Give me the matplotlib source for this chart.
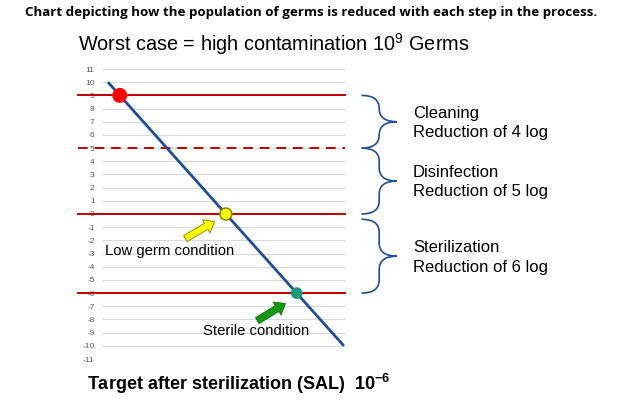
import matplotlib
matplotlib.use("Agg")
import matplotlib.pyplot as plt
from matplotlib.path import Path
from matplotlib.patches import PathPatch, FancyArrowPatch

plt.rcParams['font.family'] = ['Liberation Sans', 'DejaVu Sans']
plt.rcParams['mathtext.fontset'] = 'custom'
plt.rcParams['mathtext.rm'] = 'Liberation Sans'
plt.rcParams['mathtext.bf'] = 'Liberation Sans:bold'
plt.rcParams['axes.unicode_minus'] = False

# data: log10 of germ count along the process
steps = [0, 20]
log_germs = [10, -10]
y_ticks = list(range(-11, 12))

# stage boundaries (log level) and their line style
levels = [9, 5, 0, -6]
level_styles = ['-', '--', '-', '-']

# marked points on the reduction line
point_levels = [9, 0, -6]
point_colors = ['#ff0000', '#ffff00', '#159a7a']
point_edges = ['#ff0000', '#7f7f00', '#159a7a']
point_sizes = [95, 75, 55]

# process stages: (top level, bottom level, label)
stages = [(9, 5, 'Cleaning\nReduction of 4 log'),
          (5, 0, 'Disinfection\nReduction of 5 log'),
          (-0.4, -6, 'Sterilization\nReduction of 6 log')]

fig = plt.figure(figsize=(6.17, 4.01), dpi=100)
ax = fig.add_axes([103/617, 1 - 359/401, (345 - 103)/617, (359 - 69)/401])
ax.set_xlim(-0.42, 20.1)
ax.set_ylim(-11, 11)
for s in ax.spines.values():
    s.set_visible(False)
ax.set_xticks([])
ax.set_yticks(y_ticks)
ax.tick_params(axis='y', length=0, pad=6, labelsize=6, labelcolor='#595959')
ax.yaxis.grid(True, color='#d9d9d9', lw=0.8)
ax.set_axisbelow(True)

# stage boundary lines, drawn through the tick labels
for lv, ls in zip(levels, level_styles):
    ax.plot([-2.5, 20.1], [lv, lv], color='#c00000', lw=1.4, ls=ls,
            dashes=(5, 3.5) if ls == '--' else (None, None), clip_on=False, zorder=2)

# reduction line
ax.plot(steps, log_germs, color='#1f4e96', lw=2, zorder=3, solid_capstyle='butt')

slope = (log_germs[1] - log_germs[0]) / (steps[1] - steps[0])
px = [steps[0] + (lv - log_germs[0]) / slope for lv in point_levels]
ax.scatter(px, point_levels, s=point_sizes, c=point_colors, edgecolors=point_edges,
           linewidths=1, zorder=4)

# arrows pointing at the conditions
arrows = [((6.36, -1.97), (9.24, -0.46), '#ffff00', '#7f7f00'),
          ((12.46, -8.2), (15.25, -6.68), '#119911', '#0b6b0b')]
for tail, head, fc, ec in arrows:
    ax.add_patch(FancyArrowPatch(tail, head, arrowstyle='simple,head_length=7,head_width=11,tail_width=5',
                                 fc=fc, ec=ec, lw=0.6, zorder=5, clip_on=False))

ax.text(-0.25, -2.8, 'Low germ condition', fontsize=10.7, va='center', ha='left')
ax.text(8.05, -8.9, 'Sterile condition', fontsize=10.7, va='center', ha='left')

# braces and stage labels
x0, x1, x2 = 21.5, 23.0, 24.5
r = 1.0
for top, bot, label in stages:
    mid = (top + bot) / 2
    verts = [(x0, top), (x1, top), (x1, top - r),
             (x1, mid + r), (x1, mid), (x2, mid),
             (x1, mid), (x1, mid - r),
             (x1, bot + r), (x1, bot), (x0, bot)]
    codes = [Path.MOVETO, Path.CURVE3, Path.CURVE3,
             Path.LINETO, Path.CURVE3, Path.CURVE3,
             Path.CURVE3, Path.CURVE3,
             Path.LINETO, Path.CURVE3, Path.CURVE3]
    ax.add_patch(PathPatch(Path(verts, codes), fc='none', ec='#1f4e96', lw=1.2, clip_on=False))
    ax.text(25.85, mid - 0.1, label, fontsize=12, va='center', ha='left', linespacing=1.35)

fig.text(0.504, 0.968, 'Chart depicting how the population of germs is reduced with each step in the process.',
         fontsize=9.6, fontweight='bold', ha='center', va='center', family=['Open Sans', 'DejaVu Sans'])
fig.text(78/617, 1 - 44/401, r'Worst case = high contamination 10$^{\mathregular{9}}$ Germs',
         fontsize=14.3, ha='left', va='center')
fig.text(87/617, 1 - 384/401, r'Target after sterilization (SAL)  10$^{\mathbf{-6}}$',
         fontsize=13, fontweight='bold', ha='left', va='center')

fig.savefig('out.png', dpi=100)
